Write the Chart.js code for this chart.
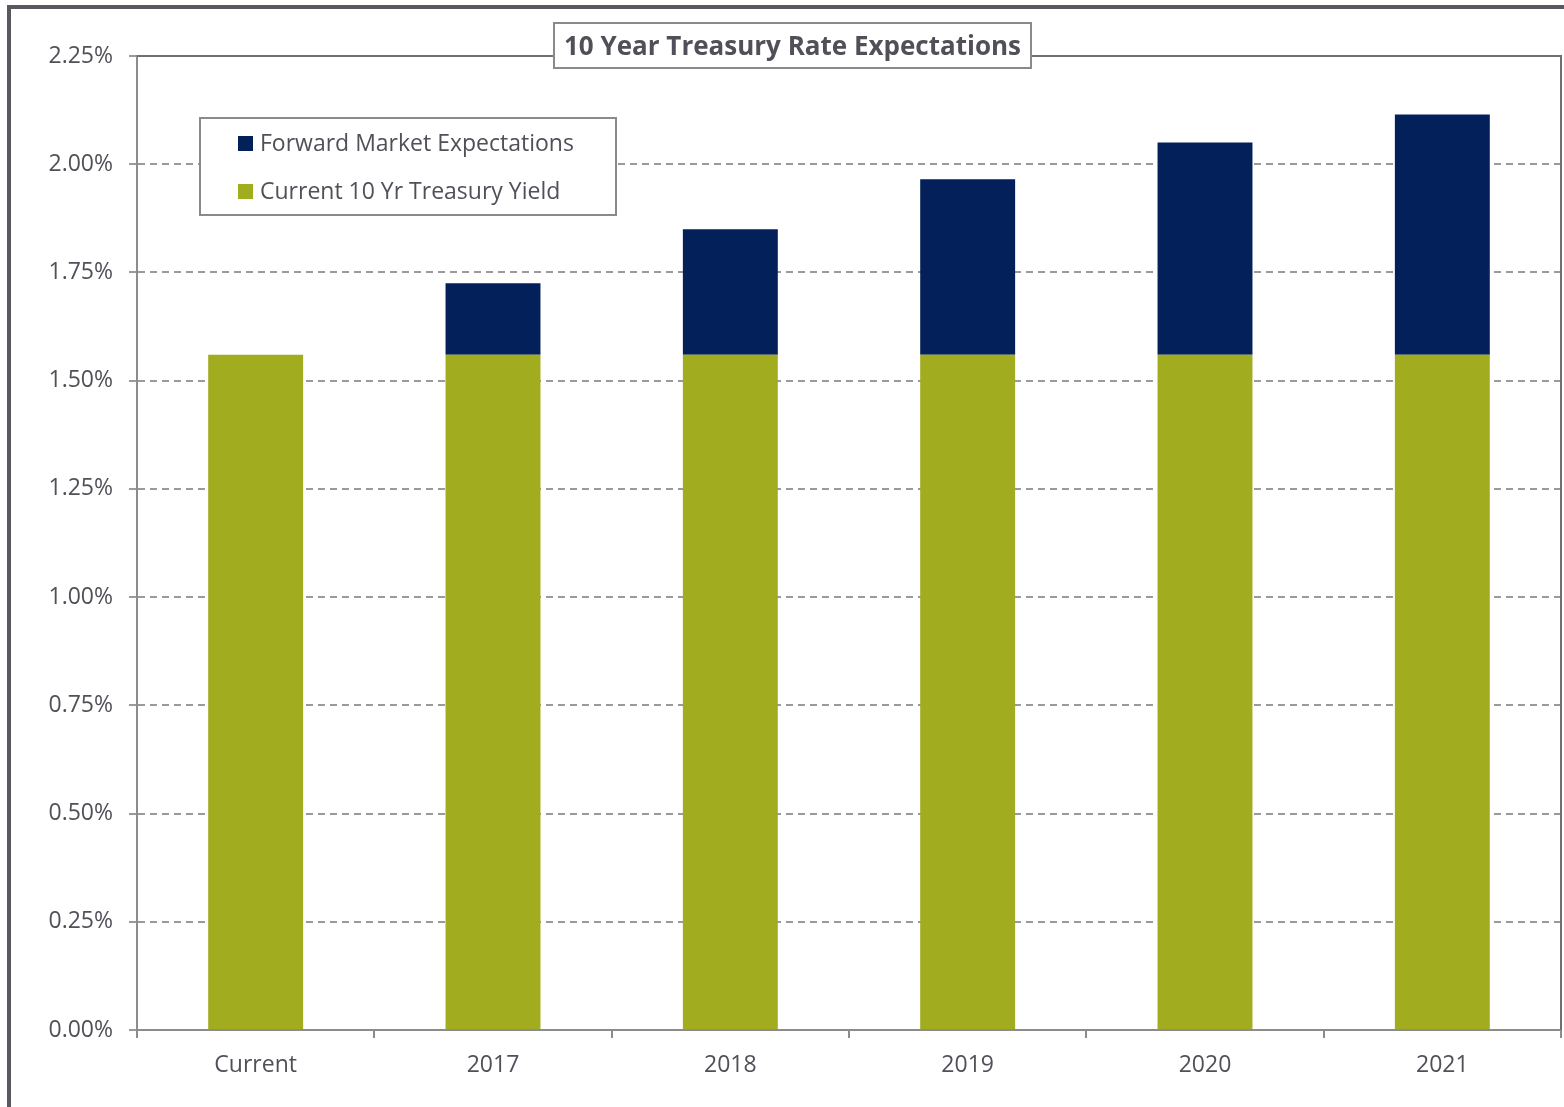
<!DOCTYPE html>
<html lang="en">
<head>
  <meta charset="UTF-8" />
  <title>10 Year Treasury Rate Expectations</title>
  <script src="https://cdn.jsdelivr.net/npm/chart.js"></script>
  <style>
    * { box-sizing: border-box; }
    body { margin: 0; background: #ffffff; }
    #wrap { position: relative; width: 1564px; height: 1107px; }
    canvas { display: block; }
  </style>
</head>
<body>
  <div id="wrap"><canvas id="chart" width="1564" height="1107"></canvas></div>
  <script>
    const categories = ['Current', '2017', '2018', '2019', '2020', '2021'];
    const currentYield = [1.56, 1.56, 1.56, 1.56, 1.56, 1.56];
    const forwardExpect = [0, 0.165, 0.29, 0.405, 0.49, 0.555];
    const yTicks = [0, 0.25, 0.5, 0.75, 1, 1.25, 1.5, 1.75, 2, 2.25];

    const textColor = '#505058';
    const fontFamily = "'Open Sans', 'Noto Sans', sans-serif";

    // frame, title box and legend box drawn on top of the chart
    const decorations = {
      id: 'decorations',
      beforeDraw(chart) {
        const ctx = chart.ctx;
        ctx.save();
        ctx.fillStyle = '#ffffff';
        ctx.fillRect(0, 0, chart.width, chart.height);
        ctx.restore();
      },
      afterDraw(chart) {
        const ctx = chart.ctx;
        const area = chart.chartArea;
        ctx.save();

        // outer border (left + top)
        ctx.fillStyle = '#58595e';
        ctx.fillRect(7, 5, 4, chart.height - 5);
        ctx.fillRect(7, 5, chart.width - 7, 4);

        // plot frame top and right
        ctx.strokeStyle = '#707070';
        ctx.lineWidth = 2;
        ctx.beginPath();
        ctx.moveTo(area.left, area.top);
        ctx.lineTo(area.right, area.top);
        ctx.lineTo(area.right, area.bottom);
        ctx.stroke();

        // title box
        ctx.fillStyle = '#ffffff';
        ctx.fillRect(554, 23, 477, 45);
        ctx.strokeStyle = '#8a8a8a';
        ctx.lineWidth = 2;
        ctx.strokeRect(554, 23, 477, 45);
        ctx.fillStyle = textColor;
        ctx.font = 'bold 26px ' + fontFamily;
        ctx.textAlign = 'center';
        ctx.textBaseline = 'middle';
        ctx.fillText('10 Year Treasury Rate Expectations', 792.5, 48);

        // legend box
        ctx.fillStyle = '#ffffff';
        ctx.fillRect(200, 118, 416, 97);
        ctx.strokeRect(200, 118, 416, 97);
        const items = chart.data.datasets.slice().reverse();
        ctx.font = '23px ' + fontFamily;
        ctx.textAlign = 'left';
        items.forEach((ds, i) => {
          const cy = 143 + i * 48;
          ctx.fillStyle = ds.backgroundColor;
          ctx.fillRect(238, cy - 7, 15, 15);
          ctx.fillStyle = textColor;
          ctx.fillText(ds.label, 260, cy + 1);
        });
        ctx.restore();
      }
    };

    new Chart(document.getElementById('chart'), {
      type: 'bar',
      data: {
        labels: categories,
        datasets: [
          {
            label: 'Current 10 Yr Treasury Yield',
            data: currentYield,
            backgroundColor: '#a1ac1f',
            barPercentage: 0.4,
            categoryPercentage: 1
          },
          {
            label: 'Forward Market Expectations',
            data: forwardExpect,
            backgroundColor: '#03205b',
            barPercentage: 0.4,
            categoryPercentage: 1
          }
        ]
      },
      options: {
        responsive: false,
        animation: false,
        layout: { padding: { left: 0, top: 56, right: 3, bottom: 0 } },
        plugins: {
          legend: { display: false },
          title: { display: false },
          tooltip: { enabled: false }
        },
        scales: {
          x: {
            stacked: true,
            afterFit: axis => { axis.height = 77; },
            grid: {
              offset: true,
              drawOnChartArea: false,
              drawTicks: true,
              tickLength: 8,
              color: '#8c8c8c',
              lineWidth: 2
            },
            border: { color: '#8c8c8c', width: 2 },
            ticks: {
              color: textColor,
              font: { family: fontFamily, size: 23 },
              padding: 14,
              maxRotation: 0
            }
          },
          y: {
            stacked: true,
            min: 0,
            max: 2.25,
            afterFit: axis => { axis.width = 137; },
            afterBuildTicks: axis => { axis.ticks = yTicks.map(v => ({ value: v })); },
            grid: {
              color: '#9a9a9a',
              lineWidth: 2,
              tickLength: 8,
              tickColor: '#9a9a9a'
            },
            border: { color: '#8c8c8c', width: 2, dash: [7, 5] },
            ticks: {
              color: textColor,
              font: { family: fontFamily, size: 23 },
              padding: 16,
              callback: v => v.toFixed(2) + '%'
            }
          }
        }
      },
      plugins: [decorations]
    });
  </script>
</body>
</html>
